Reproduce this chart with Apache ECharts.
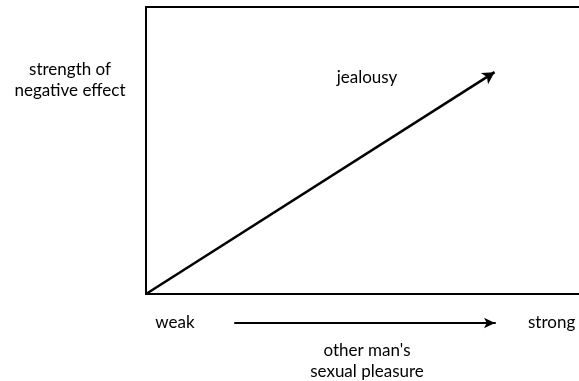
<!DOCTYPE html>
<html>
<head>
<meta charset="utf-8">
<script src="https://cdn.jsdelivr.net/npm/echarts@6/dist/echarts.min.js"></script>
<style>
  html, body { margin: 0; padding: 0; background: #fff; }
  #chart { width: 579px; height: 381px; }
</style>
</head>
<body>
<div id="chart"></div>
<script>
// data for the sketch
const lineStart = [0, 0]
const lineEnd = [0.805, 0.773]
const lineName = 'jealousy'
const xEnds = ['weak', 'strong']
const xTitle = "other man's\nsexual pleasure"
const yTitle = 'strength of\nnegative effect'

const font = 'Lato, "Open Sans", sans-serif'
const fs = 17

const myChart = echarts.init(document.getElementById('chart'))

function txt (x, y, text, align) {
  return {
    type: 'text',
    x: x,
    y: y,
    style: {
      text: text,
      fill: '#000',
      font: fs + 'px ' + font,
      align: align || 'center',
      verticalAlign: 'middle',
      lineHeight: 21
    }
  }
}

myChart.setOption({
  animation: false,
  grid: [
    { left: 146, top: 7, right: -10, bottom: 87 },
    // bottom arrow strip
    { left: 235, right: 84, top: 322, height: 1 }
  ],
  xAxis: [
    {
      gridIndex: 0, type: 'value', min: 0, max: 1,
      axisLine: { show: true, onZero: false, lineStyle: { color: '#000', width: 2 } },
      axisTick: { show: false }, axisLabel: { show: false }, splitLine: { show: false }
    },
    {
      gridIndex: 0, type: 'value', min: 0, max: 1, position: 'top',
      axisLine: { show: true, onZero: false, lineStyle: { color: '#000', width: 2 } },
      axisTick: { show: false }, axisLabel: { show: false }, splitLine: { show: false }
    },
    {
      gridIndex: 1, type: 'category', data: xEnds,
      axisLine: {
        show: true, onZero: false,
        symbol: ['none', 'arrow'], symbolSize: [8, 11],
        lineStyle: { color: '#000', width: 2 }
      },
      axisTick: { show: false }, axisLabel: { show: false }
    }
  ],
  yAxis: [
    {
      gridIndex: 0, type: 'value', min: 0, max: 1,
      axisLine: { show: true, onZero: false, lineStyle: { color: '#000', width: 2 } },
      axisTick: { show: false }, axisLabel: { show: false }, splitLine: { show: false }
    },
    {
      gridIndex: 1, type: 'value', min: 0, max: 1, show: false
    }
  ],
  series: [
    {
      name: lineName,
      type: 'line',
      xAxisIndex: 0,
      yAxisIndex: 0,
      data: [lineStart],
      symbol: 'none',
      silent: true,
      markLine: {
        silent: true,
        symbol: ['none', 'arrow'],
        symbolSize: [10, 12],
        label: { show: false },
        lineStyle: { color: '#000', width: 2.5, type: 'solid' },
        data: [[{ coord: lineStart }, { coord: lineEnd }]]
      }
    }
  ],
  graphic: [
    txt(70, 80, yTitle),
    txt(367, 78, lineName),
    txt(175, 323, xEnds[0]),
    txt(528, 323, xEnds[1], 'left'),
    txt(367, 361, xTitle)
  ]
})
</script>
</body>
</html>
